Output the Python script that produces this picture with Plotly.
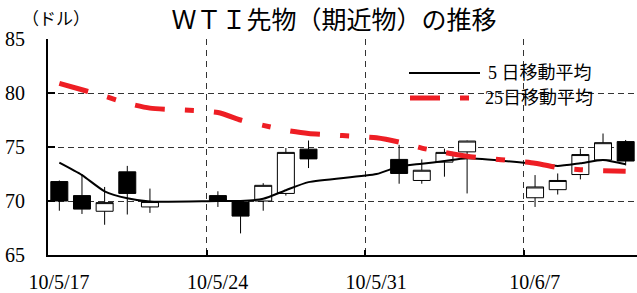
import plotly.graph_objects as go

# ---- data ----
candle_dates = ["2010-05-17", "2010-05-18", "2010-05-19", "2010-05-20", "2010-05-21",
                "2010-05-24", "2010-05-25", "2010-05-26", "2010-05-27", "2010-05-28",
                "2010-06-01", "2010-06-02", "2010-06-03", "2010-06-04",
                "2010-06-07", "2010-06-08", "2010-06-09", "2010-06-10", "2010-06-11"]
open_ = [71.8, 70.5, 69.05, 72.7, 69.45, 70.5, 69.9, 70.0, 70.7, 74.8,
         73.85, 71.9, 73.6, 74.55, 70.3, 71.05, 72.45, 73.8, 75.5]
high = [71.9, 72.5, 71.3, 73.25, 71.15, 70.9, 70.05, 71.65, 74.9, 75.6,
        75.2, 73.85, 74.85, 75.6, 72.4, 72.55, 74.85, 76.25, 75.65]
low = [69.1, 68.8, 67.8, 68.75, 68.9, 69.45, 67.0, 69.1, 70.5, 73.05,
       71.6, 71.6, 72.25, 70.7, 69.45, 70.6, 72.0, 73.75, 73.3]
close = [70.0, 69.25, 69.85, 70.7, 69.95, 70.05, 68.6, 71.45, 74.5, 73.9,
         72.55, 72.85, 74.5, 75.55, 71.3, 71.9, 74.3, 75.4, 73.7]

ma_dates = ["2010-05-17", "2010-05-18", "2010-05-19", "2010-05-20", "2010-05-21",
            "2010-05-24", "2010-05-25", "2010-05-26", "2010-05-27", "2010-05-28",
            "2010-05-31", "2010-06-01", "2010-06-02", "2010-06-03", "2010-06-04",
            "2010-06-07", "2010-06-08", "2010-06-09", "2010-06-10", "2010-06-11"]
ma5 = [73.55, 72.4, 70.9, 70.25, 69.95, 70.0, 70.0, 70.2, 71.0, 71.75,
       72.5, 73.2, 73.45, 73.7, 73.95, 73.45, 73.25, 73.5, 73.8, 73.4]
ma25 = [80.9, 80.3, 79.7, 79.05, 78.6, 78.2, 77.5, 77.0, 76.55, 76.25,
        75.85, 75.45, 74.9, 74.5, 74.15, 73.5, 73.1, 72.9, 72.8, 72.75]

title_text = "ＷＴＩ先物（期近物）の推移"
unit_text = "（ドル）"
legend_ma5 = "5 日移動平均"
legend_ma25 = "25日移動平均"
x_range = ["2010-05-17", "2010-06-12"]
y_range = [65, 85]

DAY = 86400000
RED = "rgb(238,30,36)"
GRID = "#333333"
SERIF = "Liberation Serif, Noto Sans CJK JP, serif"

fig = go.Figure()
fig.add_trace(go.Candlestick(
    x=candle_dates, open=open_, high=high, low=low, close=close,
    xperiod=DAY, xperiodalignment="middle",
    increasing=dict(fillcolor="white", line=dict(color="black", width=1)),
    decreasing=dict(fillcolor="black", line=dict(color="black", width=1)),
    whiskerwidth=0, showlegend=False, hoverinfo="skip",
))
fig.add_trace(go.Scatter(
    x=ma_dates, y=ma5, mode="lines", xperiod=DAY, xperiodalignment="middle",
    line=dict(color="black", width=2, shape="spline", smoothing=0.6),
    showlegend=False, hoverinfo="skip",
))
fig.add_trace(go.Scatter(
    x=ma_dates, y=ma25, mode="lines", xperiod=DAY, xperiodalignment="middle",
    line=dict(color=RED, width=5, dash="30px,20px,9px,20px", shape="spline", smoothing=0.6),
    showlegend=False, hoverinfo="skip",
))

L, T, W, H = 48, 39, 637, 293
BOTTOM = 255
PW, PH = W - L, BOTTOM - T


def px(xp):
    return (xp - L) / PW


def py(yp):
    return (BOTTOM - yp) / PH


shapes = [
    dict(type="rect", xref="paper", yref="paper", x0=px(400), x1=px(602), y0=py(112), y1=py(62),
         fillcolor="white", line=dict(width=0), layer="between"),
    dict(type="line", xref="paper", yref="paper", x0=px(409), x1=px(480), y0=py(73), y1=py(73),
         line=dict(color="black", width=2)),
    dict(type="line", xref="paper", yref="paper", x0=px(410), x1=px(472), y0=py(98), y1=py(98),
         line=dict(color=RED, width=5, dash="30px,20px,9px,20px")),
]
annotations = [
    dict(text=legend_ma5, xref="paper", yref="paper", x=px(486), y=py(73), xanchor="left",
         yanchor="middle", showarrow=False, font=dict(family=SERIF, size=18, color="black")),
    dict(text=legend_ma25, xref="paper", yref="paper", x=px(483), y=py(98), xanchor="left",
         yanchor="middle", showarrow=False, font=dict(family=SERIF, size=18, color="black")),
    dict(text=unit_text, xref="paper", yref="paper", x=px(56), y=py(17), xanchor="center",
         yanchor="middle", showarrow=False, font=dict(family="Noto Sans CJK JP", size=17, color="black")),
]

fig.update_layout(
    width=W, height=H,
    margin=dict(l=L, r=0, t=T, b=H - BOTTOM, pad=0, autoexpand=False),
    paper_bgcolor="white", plot_bgcolor="white",
    boxgap=0.25, boxgroupgap=0,
    title=dict(text=title_text, x=334 / W, xref="container", xanchor="center",
               y=1 - 20 / H, yref="container", yanchor="middle",
               font=dict(family="Noto Sans CJK JP", size=25, color="black")),
    shapes=shapes, annotations=annotations,
    showlegend=False,
)
fig.update_xaxes(
    type="date", range=x_range, tick0=x_range[0], dtick=7 * DAY, tickformat="%y/%-m/%-d",
    rangeslider=dict(visible=False),
    showgrid=True, gridcolor=GRID, gridwidth=1, griddash="6px,5px",
    showline=True, linecolor="black", linewidth=2,
    ticks="inside", ticklen=5, tickwidth=2, tickcolor="black",
    ticklabelshift=11, ticklabelstandoff=8,
    tickfont=dict(family=SERIF, size=20, color="black"),
    zeroline=False, fixedrange=True, automargin=False,
)
fig.update_yaxes(
    range=y_range, dtick=5, tick0=65,
    showgrid=True, gridcolor=GRID, gridwidth=1, griddash="6px,4px",
    showline=True, linecolor="black", linewidth=2,
    ticks="inside", ticklen=7, tickwidth=2, tickcolor="black",
    ticklabelstandoff=17,
    tickfont=dict(family=SERIF, size=20, color="black"),
    zeroline=False, fixedrange=True, automargin=False,
)

fig.write_html("out.html", post_script="document.body.style.margin='0';", config={"displayModeBar": False})
